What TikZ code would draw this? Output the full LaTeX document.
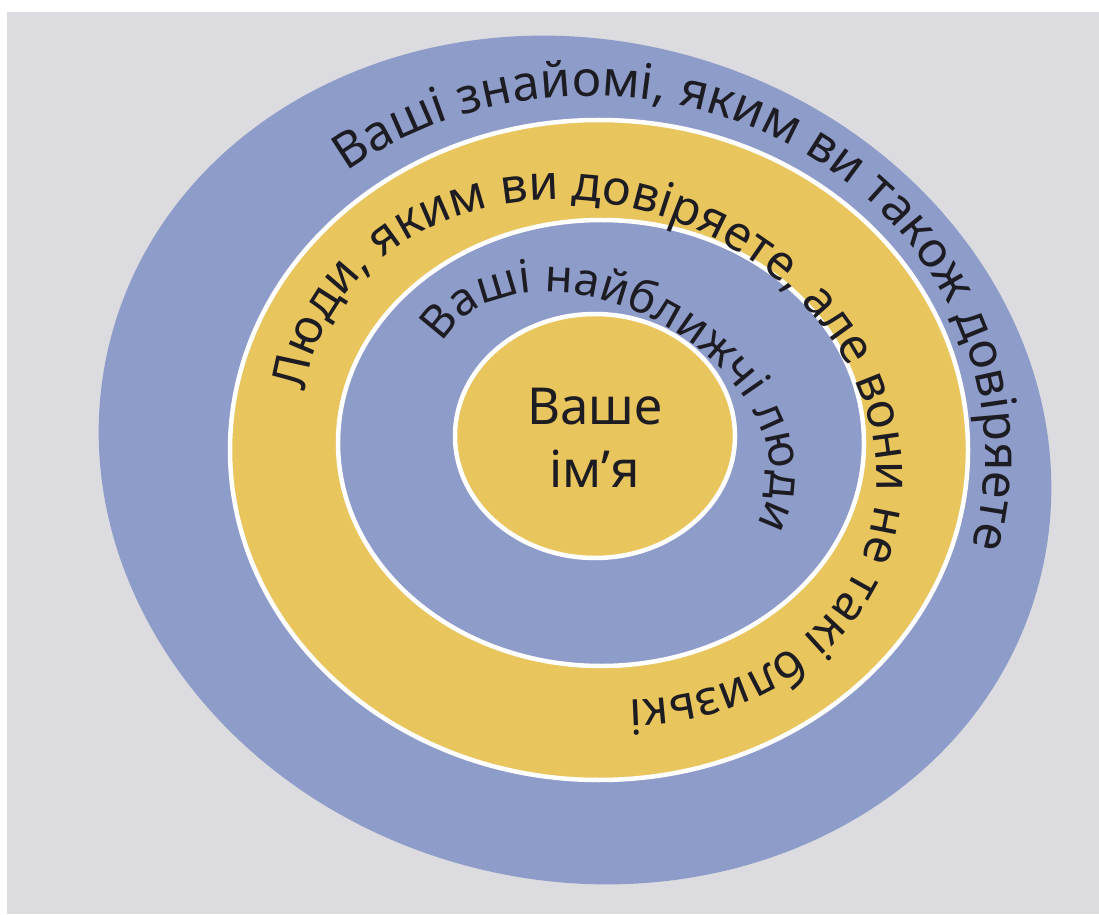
\documentclass[tikz,border=0pt]{standalone}
\usepackage{fontspec}
\setmainfont{Noto Sans}
\usetikzlibrary{decorations.text}
\definecolor{bg}{HTML}{DCDCE0}
\definecolor{ringblue}{HTML}{8E9CCA}
\definecolor{ringyellow}{HTML}{E9C55E}
\definecolor{ink}{HTML}{1C1C22}
\newcommand\ringfontA{\fontsize{28}{32}\selectfont}
\newcommand\ringfontB{\fontsize{27.5}{32}\selectfont}
\newcommand\ringfontC{\fontsize{26}{30}\selectfont}
\begin{document}
\begin{tikzpicture}[x=0.02cm,y=0.02cm,
  ringtext/.style={decorate, decoration={text along path, text color=ink, text align=left, text={#1}}},
  ringfill/.style={fill=#1, draw=white, line width=0.09cm},
  centertext/.style={font=\fontsize{29}{35}\selectfont, text=ink, anchor=base, inner sep=0pt}]
\useasboundingbox (0,0) rectangle (1099,914);
\fill[white] (0,0) rectangle (1099,914);
\fill[bg] (7,0) rectangle (1099,902);
% rings
\fill[ringblue, rotate around={-15:(575,454)}] (575,454) ellipse [x radius=480, y radius=420];
\filldraw[ringfill=ringyellow] (599,464) ellipse [x radius=369, y radius=330];
\filldraw[ringfill=ringblue] (601,471) ellipse [x radius=263, y radius=223];
\filldraw[ringfill=ringyellow] (595,478) ellipse [x radius=140, y radius=122];
% texts along rings
\path[ringtext={|\ringfontA|Ваші знайомі, яким ви також довіряете}]
  plot[domain=0:142, samples=240, variable=\s] ({590+395*cos(128-\s)}, {459+359*sin(128-\s)});
\path[ringtext={|\ringfontB|Люди, яким ви довіряете, але вони не такі близькі}]
  plot[domain=0:254, samples=320, variable=\s] ({590+274.4*cos(190-\s)+83.45*sin(190-\s)}, {464-99.86*cos(190-\s)+229.3*sin(190-\s)});
\path[ringtext={|\ringfontC|Ваші найближчі люди}]
  plot[domain=0:180, samples=240, variable=\s] ({601+158.7*cos(180-\s)+59.6*sin(180-\s)}, {483-88.0*cos(180-\s)+107.6*sin(180-\s)});
% centre
\node[centertext] (name1) at (595,489) {Ваше};
\node[centertext] (name2) at (595,427) {ім’я};
\end{tikzpicture}
\end{document}
